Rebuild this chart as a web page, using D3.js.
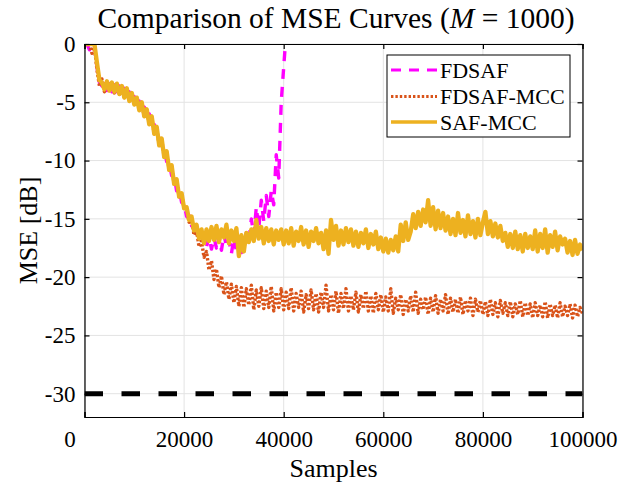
<!DOCTYPE html>
<html>
<head>
<meta charset="utf-8">
<script src="https://cdn.jsdelivr.net/npm/d3@7/dist/d3.min.js"></script>
<style>
  html, body { margin: 0; padding: 0; background: #ffffff; }
  svg { display: block; }
  text { font-family: "Liberation Serif", "Times New Roman", serif; fill: #000; }
</style>
</head>
<body>
<svg id="chart" width="619" height="487"></svg>
<script>
// MSE learning curves, one value every 500 samples (in dB)
const sampleStep = 500;
const xTicks = [0, 20000, 40000, 60000, 80000, 100000];
const yTicks = [0, -5, -10, -15, -20, -25, -30];
const seriesNames = ["FDSAF", "FDSAF-MCC", "SAF-MCC"];
const noiseFloor = -30;

const mseFDSAF = [
  0, 0, -0.5, 0, -0.2, -2.0, -3.3, -3.6, -3.2, -4.0,
  -3.4, -4.1, -3.5, -4.3, -3.6, -4.4, -3.8, -4.6, -4.1, -5.0,
  -4.5, -5.3, -4.9, -5.9, -5.4, -6.5, -6.0, -7.1, -6.9, -8.0,
  -7.9, -9.0, -9.0, -10.1, -10.1, -11.3, -11.3, -12.6, -12.4, -13.6,
  -13.7, -14.8, -14.7, -15.6, -15.5, -16.4, -16.0, -17.0, -16.3, -17.4,
  -16.5, -17.6, -16.6, -17.5, -16.4, -17.7, -16.3, -17.4, -16.8, -18.0,
  -16.6, -17.8, -16.7, -17.9, -17.6, -16.2, -17.0, -15.0, -16.4, -14.0,
  -15.8, -13.4, -15.2, -13.0, -14.8, -12.6, -13.8, -9.5, -11.5, -5.0,
  -2.0, 1.0
];

const mseFDSAFMCC = [
  0, 0, 0, -0.8, -0.3, -2.2, -3.6, -3.0, -4.1, -3.3,
  -4.0, -3.4, -4.2, -3.5, -4.3, -3.7, -4.6, -3.9, -4.8, -4.3,
  -5.2, -4.7, -5.6, -5.1, -6.2, -5.7, -6.9, -6.3, -7.7, -7.2,
  -8.7, -8.2, -9.7, -9.3, -10.8, -10.5, -12.0, -11.7, -13.1, -12.9,
  -14.1, -14.0, -15.3, -15.0, -16.4, -16.0, -17.4, -16.9, -18.3, -17.8,
  -19.4, -18.6, -20.2, -19.3, -20.9, -19.9, -21.5, -20.4, -21.9, -20.6,
  -22.2, -20.8,
  -22.5, -20.9, -22.6, -21.0, -22.4, -20.7, -22.8, -21.1, -22.5, -20.9,
  -22.7, -21.2, -22.6, -20.8, -22.9, -21.3, -22.6, -21.0,
  -22.8, -21.3, -22.7, -20.9, -22.9, -21.4, -22.6, -21.2, -23.0, -21.5,
  -22.7, -21.1, -22.8, -21.4, -23.0, -21.3, -22.6, -20.7, -22.9, -21.5,
  -22.8, -21.2, -23.1, -21.4, -22.7, -21.0, -22.9, -21.6, -22.8, -21.3,
  -23.0, -21.5, -22.7, -21.2, -22.9, -21.6, -23.1, -21.4, -22.8, -21.5,
  -23.0, -21.7, -22.9, -21.0, -23.1, -21.8, -22.8, -21.5, -23.2, -21.9,
  -22.9, -21.6, -23.0, -21.3, -23.1, -21.9, -22.8, -21.7, -23.2, -21.8,
  -23.0, -21.6, -23.1, -21.9, -22.9, -21.5, -23.2, -21.8, -23.0, -21.9,
  -23.1, -21.7, -23.2, -22.0, -22.9, -21.8, -23.3, -21.9, -23.0, -22.0,
  -23.2, -22.1, -23.3, -21.9, -23.2, -22.2, -23.4, -22.0, -23.1, -22.2,
  -23.3, -22.1, -23.4, -22.3, -23.2, -22.0, -23.4, -22.2, -23.3, -22.3,
  -23.5, -22.2, -23.3, -22.4, -23.4, -22.1, -23.5, -22.3, -23.3, -22.4,
  -23.5, -22.2, -23.4, -22.5, -23.3, -22.3, -23.5, -22.4, -23.4, -22.6,
  -23.1
];

const mseSAFMCC = [
  0, 0, 0, 0, 0, -1.6, -3.1, -3.3, -3.9, -3.2,
  -4.0, -3.3, -4.1, -3.4, -4.3, -3.6, -4.6, -3.8, -4.9, -4.2,
  -5.2, -4.6, -5.7, -5.0, -6.2, -5.6, -6.9, -6.2, -7.7, -7.1,
  -8.7, -8.1, -9.7, -9.2, -10.8, -10.4, -12.0, -11.6, -13.1, -12.8,
  -14.1, -14.0, -15.1, -14.8, -16.0, -15.5, -16.7, -15.9, -17.1, -15.9,
  -16.9, -15.7, -16.8, -15.6, -17.0, -15.9, -16.6, -15.5, -17.1, -16.0,
  -16.9, -15.8,
  -18.2, -16.4, -17.8, -16.2,
  -17.0, -15.9, -16.9, -15.1, -16.7, -15.7, -17.1, -15.8, -16.9, -15.9,
  -17.2, -16.0, -16.8,
  -15.9, -17.2, -16.0, -17.1, -15.8, -17.3, -16.1, -16.9, -15.7, -17.2,
  -16.0, -17.4, -16.1, -16.9, -15.8, -17.1, -16.2, -17.6, -16.0, -18.0,
  -15.1, -16.8, -15.6,
  -17.3, -16.0, -17.2, -15.8, -17.0, -15.9, -17.3, -16.1, -17.4, -16.2,
  -17.1, -15.9, -17.5, -16.3, -17.2, -16.1, -17.6,
  -16.6, -17.8, -16.7, -17.9, -16.8, -17.7, -16.5, -17.8,
  -15.5, -16.9, -15.3, -16.8, -16.1,
  -14.6, -15.8, -14.4, -15.6, -14.2, -15.3,
  -13.4,
  -15.6, -14.0, -15.9, -14.3, -15.8, -14.5, -16.0,
  -14.8, -16.3, -15.0, -16.4, -14.5, -16.2, -15.1, -16.5, -14.7, -16.3,
  -15.2, -16.6, -15.0, -16.4, -15.3,
  -14.4, -16.3, -15.2, -16.5, -15.4, -16.6, -15.6, -16.9,
  -16.2, -17.4, -16.3, -17.5, -16.1, -17.6, -16.4, -17.8, -16.3, -17.5,
  -16.5,
  -17.6, -16.0, -17.8, -16.3, -17.5, -15.9, -17.9, -16.4, -17.4, -16.1,
  -17.7, -16.5, -17.2,
  -16.7, -17.9, -16.9, -18.1, -16.8, -18.0, -17.2, -17.7
];

const svg = d3.select("#chart");
const plot = { left: 84.5, right: 582.5, top: 44, bottom: 417 };

const x = d3.scaleLinear().domain([0, 100000]).range([plot.left, plot.right]);
const y = d3.scaleLinear().domain([-32, 0]).range([plot.bottom, plot.top]);

// grid
const grid = svg.append("g").attr("stroke", "#e3e3e3").attr("stroke-width", 1);
grid.selectAll("line.gx").data(xTicks).join("line")
  .attr("x1", d => x(d)).attr("x2", d => x(d))
  .attr("y1", plot.top).attr("y2", plot.bottom);
grid.selectAll("line.gy").data(yTicks).join("line")
  .attr("x1", plot.left).attr("x2", plot.right)
  .attr("y1", d => y(d)).attr("y2", d => y(d));

// curves
svg.append("clipPath").attr("id", "plotClip")
  .append("rect")
  .attr("x", plot.left).attr("y", plot.top)
  .attr("width", plot.right - plot.left).attr("height", plot.bottom - plot.top);

const line = d3.line()
  .x((d, i) => x(i * sampleStep))
  .y(d => y(d));

// legend swatch width, and the heavier width used for the dense curves
const styles = [
  { data: mseFDSAF, color: "#ff00ff", width: 3, curveWidth: 3.4, dash: "10,8" },
  { data: mseFDSAFMCC, color: "#d95319", width: 3, curveWidth: 3.4, dash: "2.4,2" },
  { data: mseSAFMCC, color: "#edb120", width: 3.5, curveWidth: 4.3, dash: null }
];

const curves = svg.append("g").attr("clip-path", "url(#plotClip)");
styles.forEach(s => {
  curves.append("path")
    .attr("d", line(s.data))
    .attr("fill", "none")
    .attr("stroke", s.color)
    .attr("stroke-width", s.curveWidth)
    .attr("stroke-linejoin", "round")
    .attr("stroke-dasharray", s.dash);
});

// -30 dB reference level
curves.append("line")
  .attr("x1", x(0)).attr("x2", x(100000))
  .attr("y1", y(noiseFloor)).attr("y2", y(noiseFloor))
  .attr("stroke", "#000").attr("stroke-width", 5)
  .attr("stroke-dasharray", "18.5,18.5");

// axes
const fmt = d3.format("d");
const axB = svg.append("g").attr("transform", `translate(0,${plot.bottom})`)
  .call(d3.axisBottom(x).tickValues(xTicks).tickFormat(fmt).tickSize(-5).tickPadding(14));
const axT = svg.append("g").attr("transform", `translate(0,${plot.top})`)
  .call(d3.axisTop(x).tickValues(xTicks).tickFormat("").tickSize(-5));
const axL = svg.append("g").attr("transform", `translate(${plot.left},0)`)
  .call(d3.axisLeft(y).tickValues(yTicks).tickFormat(fmt).tickSize(-5).tickPadding(9));
const axR = svg.append("g").attr("transform", `translate(${plot.right},0)`)
  .call(d3.axisRight(y).tickValues(yTicks).tickFormat("").tickSize(-5));

[axB, axT, axL, axR].forEach(a => {
  a.select(".domain").attr("stroke", "#000").attr("stroke-width", 1.2);
  a.selectAll(".tick line").attr("stroke", "#000").attr("stroke-width", 1.2);
  a.selectAll("text").attr("font-family", "Liberation Serif").attr("font-size", 23).attr("fill", "#000");
});
// leftmost sample label sits left of the corner
axB.selectAll(".tick text").filter(d => d === 0).attr("dx", -15);
// MATLAB-style hyphen minus
axL.selectAll(".tick text").text(d => d === 0 ? "0" : "-" + Math.abs(d));

// axis titles
svg.append("text")
  .attr("x", (plot.left + plot.right) / 2).attr("y", 477)
  .attr("text-anchor", "middle").attr("font-size", 26)
  .text("Samples");
svg.append("text")
  .attr("transform", `translate(37,${(plot.top + plot.bottom) / 2}) rotate(-90)`)
  .attr("text-anchor", "middle").attr("font-size", 26)
  .text("MSE [dB]");

// title
const title = svg.append("text")
  .attr("x", 336).attr("y", 28)
  .attr("text-anchor", "middle").attr("font-size", 29.5);
title.append("tspan").text("Comparison of MSE Curves (");
title.append("tspan").attr("font-style", "italic").text("M");
title.append("tspan").text(" = 1000)");

// legend
const legend = svg.append("g");
legend.append("rect")
  .attr("x", 387).attr("y", 55).attr("width", 183).attr("height", 82)
  .attr("fill", "#fff").attr("stroke", "#000").attr("stroke-width", 1);
const rowsY = [70, 96.5, 122];
styles.forEach((s, i) => {
  legend.append("line")
    .attr("x1", 391).attr("x2", 437)
    .attr("y1", rowsY[i]).attr("y2", rowsY[i])
    .attr("stroke", s.color).attr("stroke-width", s.width)
    .attr("stroke-dasharray", s.dash);
  legend.append("text")
    .attr("x", 440).attr("y", rowsY[i] + 7.5)
    .attr("font-size", 22)
    .text(seriesNames[i]);
});
</script>
</body>
</html>
